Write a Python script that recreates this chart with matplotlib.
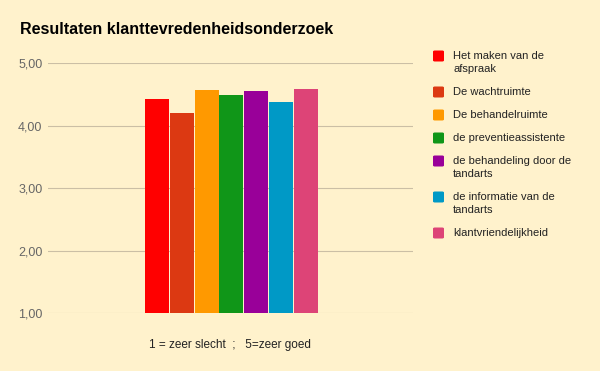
import matplotlib.pyplot as plt
from matplotlib.patches import FancyBboxPatch

plt.rcParams['font.family'] = ['Liberation Sans', 'DejaVu Sans']

categorieen = ['Het maken van de\nafspraak', 'De wachtruimte', 'De behandelruimte',
               'de preventieassistente', 'de behandeling door de\ntandarts',
               'de informatie van de\ntandarts', 'klantvriendelijkheid']
scores = [4.42, 4.20, 4.57, 4.49, 4.55, 4.38, 4.58]
kleuren = ['#ff0000', '#dc3912', '#ff9900', '#109618', '#990099', '#0099c6', '#dd4477']
y_ticks = [1, 2, 3, 4, 5]
y_labels = ['1,00', '2,00', '3,00', '4,00', '5,00']

achtergrond = '#fff2cc'
W, H = 600, 371
fig = plt.figure(figsize=(6, 3.71), dpi=100, facecolor=achtergrond)
ax = fig.add_axes([0.08, 0.1563, 0.608, 0.6737], facecolor=achtergrond)

stap = 0.0685
for i, (naam, waarde, kleur) in enumerate(zip(categorieen, scores, kleuren)):
    ax.bar((i - 3) * stap + 0.003, waarde - 1, bottom=1, width=stap * 0.96,
           color=kleur, zorder=3, label=naam)

ax.set_xlim(-0.5, 0.5)
ax.set_ylim(1, 5)
ax.set_yticks(y_ticks)
ax.set_yticklabels(y_labels, color='#666666', fontsize=9)
ax.set_xticks([])
ax.tick_params(axis='y', length=0, pad=4)
ax.grid(axis='y', color='#cbbfa5', linewidth=0.8, zorder=0)
for s in ax.spines.values():
    s.set_visible(False)

ax.set_xlabel('1 = zeer slecht  ;   5=zeer goed', fontsize=8.5, color='#222222', labelpad=19)

fig.text(20 / W, 1 - 30 / H, 'Resultaten klanttevredenheidsonderzoek',
         fontsize=11.5, fontweight='bold', color='#000000', va='center')

# legenda met de hand: vierkantje bij de eerste regel, regels 13 px uit elkaar
y = 56
for naam, kleur in zip(categorieen, kleuren):
    fig.patches.append(FancyBboxPatch((433 / W, 1 - (y + 5.5) / H), 11 / W, 11 / H,
                                      boxstyle='round,pad=0,rounding_size=0.003',
                                      facecolor=kleur, edgecolor='none',
                                      transform=fig.transFigure))
    regels = naam.split('\n')
    for j, regel in enumerate(regels):
        fig.text(453 / W, 1 - (y + 13 * j) / H, regel, fontsize=8,
                 color='#222222', va='center')
    y += 23 + 13 * (len(regels) - 1)

fig.savefig('out.png', dpi=100, facecolor=achtergrond)
